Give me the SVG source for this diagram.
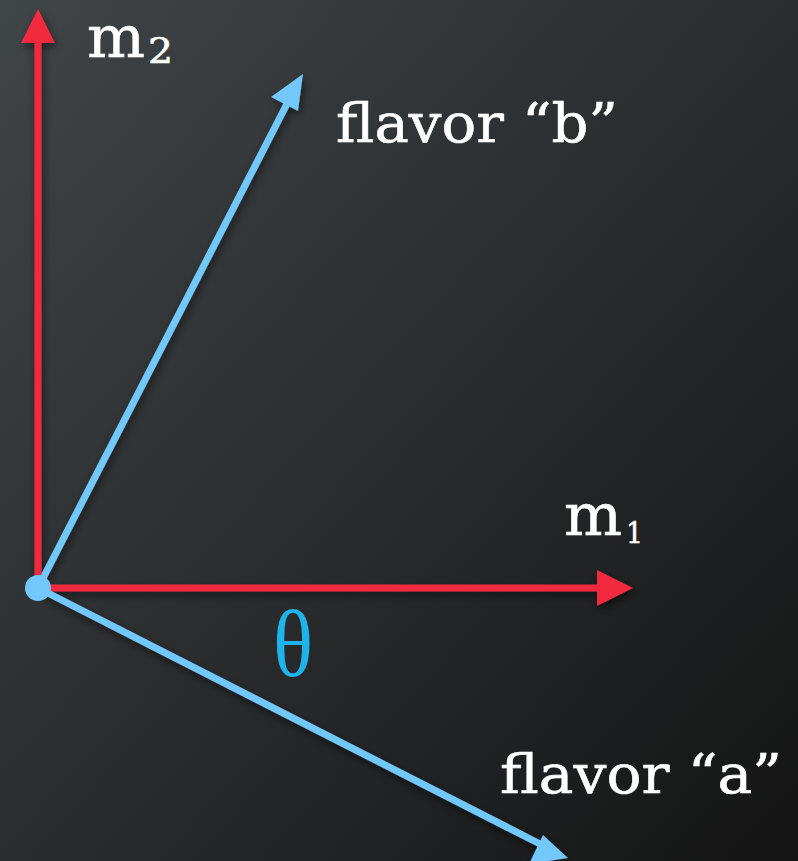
<svg xmlns="http://www.w3.org/2000/svg" width="798" height="861" viewBox="0 0 798 861">
<style>
.lbl{font-family:"DejaVu Serif","Liberation Serif",serif;fill:#ffffff;stroke:#ffffff;stroke-width:0.6;}
.red{stroke:#f22a3c;stroke-width:7;fill:none;}
.blue{stroke:#72c8fa;stroke-width:7;fill:none;}
</style>
<defs>
<linearGradient id="bg" x1="0" y1="0" x2="1" y2="1">
<stop offset="0" stop-color="#404548"/>
<stop offset="0.5" stop-color="#2a2c2e"/>
<stop offset="1" stop-color="#141414"/>
</linearGradient>
<filter id="sh" x="-20%" y="-20%" width="140%" height="140%">
<feGaussianBlur in="SourceAlpha" stdDeviation="4"/>
<feOffset dx="2" dy="4" result="b"/>
<feComponentTransfer><feFuncA type="linear" slope="0.5"/></feComponentTransfer>
<feMerge><feMergeNode/><feMergeNode in="SourceGraphic"/></feMerge>
</filter>
</defs>
<rect width="798" height="861" fill="url(#bg)"/>
<g id="connectors" filter="url(#sh)">
<g id="axis-m2">
<line class="red" x1="38" y1="588" x2="38" y2="40"/>
<polygon points="38,9 21,43 55,43" fill="#f22a3c"/>
</g>
<g id="axis-m1">
<line class="red" x1="38" y1="588" x2="600" y2="588"/>
<polygon points="633,588 597,570 597,606" fill="#f22a3c"/>
</g>
<g id="vec-b">
<line class="blue" x1="38" y1="588" x2="290" y2="98"/>
<polygon points="303,74 271,97 298,111" fill="#72c8fa"/>
</g>
<g id="vec-a">
<line class="blue" x1="38" y1="588" x2="540" y2="844"/>
<polygon points="568,858 529,864 543,835" fill="#72c8fa"/>
</g>
</g>
<g id="origin"><circle cx="38" cy="588" r="13" fill="#72c8fa"/></g>
<g id="label-m2"><text class="lbl" x="87" y="57" font-size="58" textLength="58" lengthAdjust="spacingAndGlyphs">m</text><text class="lbl" x="148" y="63" font-size="36" textLength="25" lengthAdjust="spacingAndGlyphs">2</text></g>
<g id="label-m1"><text class="lbl" x="564" y="535" font-size="58" textLength="58" lengthAdjust="spacingAndGlyphs">m</text><text class="lbl" x="626" y="543" font-size="30" textLength="17" lengthAdjust="spacingAndGlyphs">1</text></g>
<g id="label-b"><text class="lbl" x="336" y="142" font-size="54" textLength="282" lengthAdjust="spacingAndGlyphs">flavor “b”</text></g>
<g id="label-a"><text class="lbl" x="500" y="793" font-size="54" textLength="282" lengthAdjust="spacingAndGlyphs">flavor “a”</text></g>
<g id="label-theta"><text x="273" y="676" font-family="Liberation Serif, serif" font-size="96" fill="#1db4ec" textLength="40" lengthAdjust="spacingAndGlyphs">θ</text></g>
</svg>
